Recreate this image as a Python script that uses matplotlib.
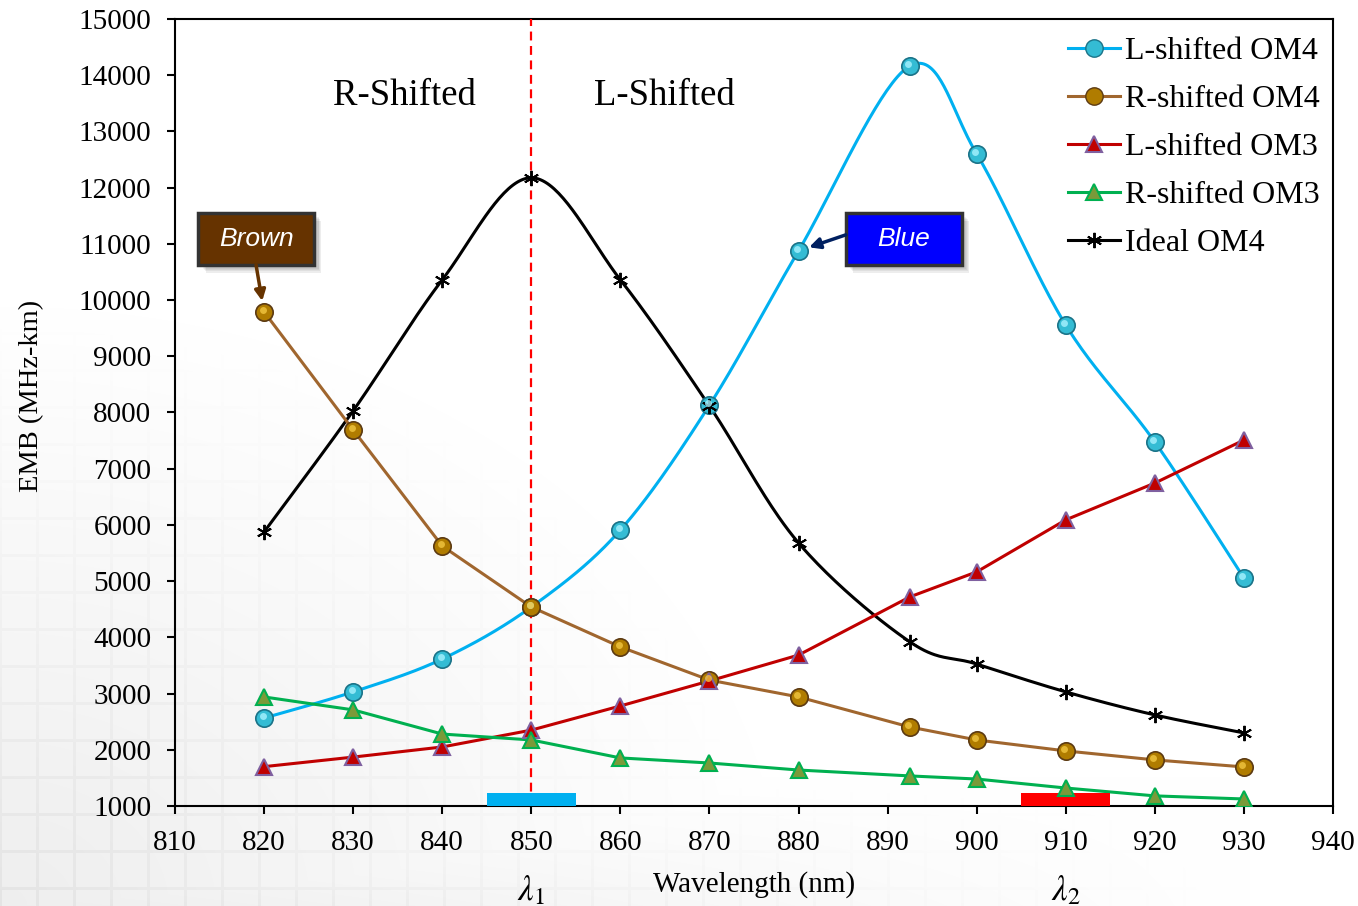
import numpy as np
import matplotlib
matplotlib.use("Agg")
from matplotlib import pyplot as plt
from matplotlib.lines import Line2D
from matplotlib.patches import Rectangle
from matplotlib import transforms

plt.rcParams["font.family"] = ["Liberation Serif", "DejaVu Serif"]
plt.rcParams["mathtext.fontset"] = "stix"

# EMB (MHz-km) versus wavelength
wavelength = [820, 830, 840, 850, 860, 870, 880, 892.5, 900, 910, 920, 930]
l_om4 = [2565, 3030, 3615, 4540, 5910, 8130, 10875, 14165, 12600, 9555, 7475, 5055]
r_om4 = [9790, 7690, 5625, 4540, 3830, 3240, 2940, 2405, 2175, 1980, 1820, 1695]
l_om3 = [1700, 1870, 2050, 2350, 2780, 3225, 3685, 4720, 5165, 6090, 6745, 7510]
r_om3 = [2940, 2710, 2280, 2175, 1855, 1765, 1640, 1535, 1480, 1320, 1180, 1125]
ideal_om4 = [5875, 8030, 10360, 12175, 10360, 8115, 5680, 3920, 3525, 3030, 2620, 2300]

W, H = 1358, 906


def smooth(x, y, n=40):
    # Bezier smoothing through every point (tangent = neighbour chord / 6)
    x = np.asarray(x, float)
    y = np.asarray(y, float)
    px = np.concatenate([[x[0]], x, [x[-1]]])
    py = np.concatenate([[y[0]], y, [y[-1]]])
    xs, ys = [], []
    t = np.linspace(0, 1, n)
    for i in range(len(x) - 1):
        p0 = np.array([px[i], py[i]])
        p1 = np.array([px[i + 1], py[i + 1]])
        p2 = np.array([px[i + 2], py[i + 2]])
        p3 = np.array([px[i + 3], py[i + 3]])
        c1 = p1 + (p2 - p0) / 6
        c2 = p2 - (p3 - p1) / 6
        b = ((1 - t) ** 3)[:, None] * p1 + (3 * (1 - t) ** 2 * t)[:, None] * c1 \
            + (3 * (1 - t) * t ** 2)[:, None] * c2 + (t ** 3)[:, None] * p2
        xs.append(b[:, 0])
        ys.append(b[:, 1])
    return np.concatenate(xs), np.concatenate(ys)


fig = plt.figure(figsize=(W / 100, H / 100), dpi=100)

# faint tiled backdrop, stronger towards the lower left
X, Y = np.meshgrid(np.arange(W), np.arange(H))
fade = np.clip(1 - np.hypot(X / 780, (H - Y) / 600), 0, 1)
fade = np.maximum(fade, np.clip(1 - (H - Y) / 130, 0, 1) * np.clip(1 - X / 1250, 0, 1))
u, v = X % 37, Y % 37
edge = (np.minimum.reduce([u, 37 - u, v, 37 - v]) < 2).astype(float)
gray = 1 - fade * (0.065 + 0.04 * edge)
bg_ax = fig.add_axes([0, 0, 1, 1], zorder=-5)
bg_ax.imshow(np.dstack([gray] * 3), aspect="auto", interpolation="bilinear")
bg_ax.axis("off")

ax = fig.add_axes([175 / W, 1 - 806 / H, (1333 - 175) / W, (806 - 19) / H])
ax.set_facecolor("none")

lw = 2.2
blue_c, brown_c, red_c, green_c = "#00b0f0", "#a0662e", "#c00000", "#00b050"

sx, sy = smooth(wavelength, l_om4)
ax.plot(sx, sy, color=blue_c, lw=lw, zorder=3)
sx, sy = smooth(wavelength, ideal_om4)
ax.plot(sx, sy, color="black", lw=lw, zorder=3)
ax.plot(wavelength, r_om4, color=brown_c, lw=lw, zorder=3)
ax.plot(wavelength, l_om3, color=red_c, lw=lw, zorder=3)
ax.plot(wavelength, r_om3, color=green_c, lw=lw, zorder=3)

# markers (sphere-like circles get a small highlight)
hl = transforms.offset_copy(ax.transData, fig=fig, x=-1.5, y=2, units="dots")
ax.plot(wavelength, l_om4, ls="none", marker="o", ms=12.5, mfc="#34bcd4",
        mec="#1a7388", mew=1.2, zorder=5)
ax.plot(wavelength, l_om4, ls="none", marker="o", ms=5, mfc="#a8f2ff",
        mec="none", alpha=0.8, transform=hl, zorder=6)
ax.plot(wavelength, r_om4, ls="none", marker="o", ms=12.5, mfc="#b07c00",
        mec="#5c3a12", mew=1.2, zorder=5)
ax.plot(wavelength, r_om4, ls="none", marker="o", ms=5, mfc="#f2c640",
        mec="none", alpha=0.8, transform=hl, zorder=6)
ax.plot(wavelength, l_om3, ls="none", marker="^", ms=11, mfc="#c00000",
        mec="#7f60a0", mew=1.5, zorder=5)
ax.plot(wavelength, r_om3, ls="none", marker="^", ms=11, mfc="#7a9a3a",
        mec="#00b050", mew=1.5, zorder=5)
ax.plot(wavelength, ideal_om4, ls="none", marker=(6, 2, 0), ms=11, mec="black",
        mew=1.4, zorder=5)

# reference wavelength and band markers
ax.axvline(850, color="#ff0000", lw=1.6, ls=(0, (4, 2.5)), zorder=4)
ax.add_patch(Rectangle((845, 1000), 10, 230, color="#00b0f0", zorder=4, lw=0))
ax.add_patch(Rectangle((905, 1000), 10, 230, color="#ff0000", zorder=4, lw=0))

ax.text(835.8, 13630, "R-Shifted", fontsize=26.5, ha="center", va="center")
ax.text(864.9, 13630, "L-Shifted", fontsize=26.5, ha="center", va="center")

# callout boxes
for (x0, label, fc, arrow_c, start, tip) in [
        (812.6, "Brown", "#663300", "#663300", (819.1, 10624), (820, 9788)),
        (885.3, "Blue", "#0000ff", "#002060", (885.3, 11160), (880, 10875))]:
    for k, a in enumerate([0.05, 0.05, 0.06, 0.07]):
        d = 1.2 + k * 0.35
        ax.add_patch(Rectangle((x0 + 0.15 + d * 0.3, 10624 - d * 60), 13.0, 926,
                               color="black", alpha=a, lw=0, zorder=6))
    ax.add_patch(Rectangle((x0, 10624), 13.0, 926, facecolor=fc,
                           edgecolor="#333333", lw=2.5, zorder=7))
    ax.text(x0 + 6.5, 11087, label, fontsize=19, style="italic", color="white",
            family=["Liberation Sans", "DejaVu Sans"], ha="center", va="center",
            zorder=8)
    ax.annotate("", xy=tip, xytext=start, zorder=7,
                arrowprops=dict(arrowstyle="-|>", color=arrow_c, lw=2.5,
                                mutation_scale=16, shrinkA=0, shrinkB=8))

ax.set_xlim(810, 940)
ax.set_ylim(1000, 15000)
ax.set_xticks(np.arange(810, 941, 10))
ax.set_yticks(np.arange(1000, 15001, 1000))
ax.tick_params(axis="both", labelsize=21, length=6, width=1.5, direction="out",
               colors="black")
ax.tick_params(axis="y", pad=11)
ax.tick_params(axis="x", pad=11)
for s in ax.spines.values():
    s.set_linewidth(1.5)

ax.set_ylabel("EMB (MHz-km)", fontsize=20.5)
ax.yaxis.set_label_coords(-0.113, 0.521)
ax.set_xlabel("Wavelength (nm)", fontsize=21, labelpad=11)

tb = transforms.blended_transform_factory(ax.transData, ax.transAxes)
ax.text(850, -0.108, r"$\lambda_1$", transform=tb, fontsize=25, ha="center",
        va="center")
ax.text(910, -0.108, r"$\lambda_2$", transform=tb, fontsize=25, ha="center",
        va="center")

handles = [
    Line2D([], [], color=blue_c, lw=lw, marker="o", ms=12.5, mfc="#34bcd4", mec="#1a7388"),
    Line2D([], [], color=brown_c, lw=lw, marker="o", ms=12.5, mfc="#b07c00", mec="#5c3a12"),
    Line2D([], [], color=red_c, lw=lw, marker="^", ms=11, mfc="#c00000", mec="#7f60a0", mew=1.5),
    Line2D([], [], color=green_c, lw=lw, marker="^", ms=11, mfc="#7a9a3a", mec="#00b050", mew=1.5),
    Line2D([], [], color="black", lw=lw, marker=(6, 2, 0), ms=11, mec="black", mew=1.4),
]
labels = ["L-shifted OM4", "R-shifted OM4", "L-shifted OM3", "R-shifted OM3", "Ideal OM4"]
ax.legend(handles, labels, loc="upper left", bbox_to_anchor=(1068 / W, 1 - 37 / H),
          bbox_transform=fig.transFigure, frameon=False, fontsize=23,
          borderpad=0, borderaxespad=0, handlelength=1.62, handletextpad=0.16,
          labelspacing=0.58)

fig.savefig("out.png", dpi=100)
